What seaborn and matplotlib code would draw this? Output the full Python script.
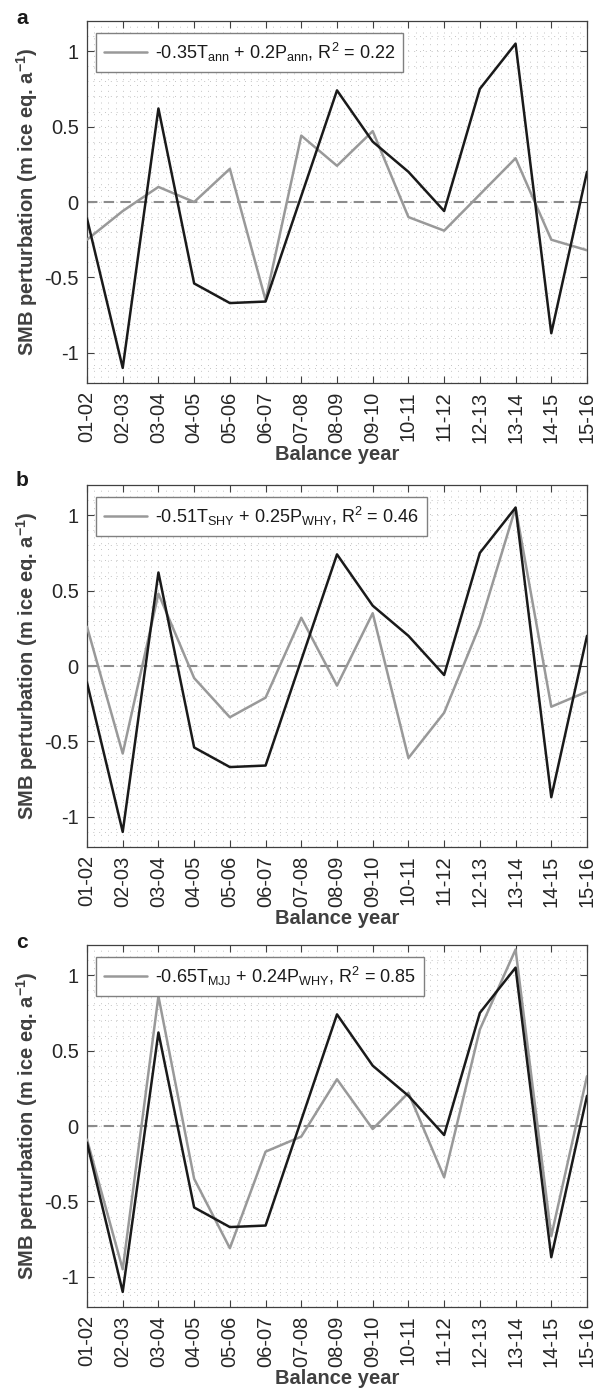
import numpy as np
import pandas as pd
import matplotlib
matplotlib.use("Agg")
import matplotlib.pyplot as plt
from matplotlib.ticker import MultipleLocator
import seaborn as sns

years = ["01-02", "02-03", "03-04", "04-05", "05-06", "06-07", "07-08", "08-09",
         "09-10", "10-11", "11-12", "12-13", "13-14", "14-15", "15-16"]

smb_obs = [-0.11, -1.10, 0.62, -0.54, -0.67, -0.66, 0.04, 0.74,
           0.40, 0.20, -0.06, 0.75, 1.05, -0.87, 0.20]

model_a = [-0.25, -0.06, 0.10, 0.00, 0.22, -0.65, 0.44, 0.24,
           0.47, -0.10, -0.19, 0.05, 0.29, -0.25, -0.32]
model_b = [0.26, -0.58, 0.48, -0.08, -0.34, -0.21, 0.32, -0.13,
           0.35, -0.61, -0.31, 0.27, 1.05, -0.27, -0.17]
model_c = [-0.09, -0.95, 0.86, -0.35, -0.81, -0.17, -0.07, 0.31,
           -0.02, 0.22, -0.34, 0.64, 1.17, -0.73, 0.33]

labels = [r"-0.35T$_{\mathrm{ann}}$ + 0.2P$_{\mathrm{ann}}$, R$^{2}$ = 0.22",
          r"-0.51T$_{\mathrm{SHY}}$ + 0.25P$_{\mathrm{WHY}}$, R$^{2}$ = 0.46",
          r"-0.65T$_{\mathrm{MJJ}}$ + 0.24P$_{\mathrm{WHY}}$, R$^{2}$ = 0.85"]
panel_letters = ["a", "b", "c"]
models = [model_a, model_b, model_c]

sns.set_style("ticks")
plt.rcParams['font.family'] = ['Liberation Sans', 'DejaVu Sans']
plt.rcParams['mathtext.fontset'] = 'custom'
plt.rcParams['mathtext.rm'] = 'Liberation Sans'
plt.rcParams['mathtext.it'] = 'Liberation Sans:italic'
plt.rcParams['mathtext.bf'] = 'Liberation Sans:bold'

txt = "#262626"
fig = plt.figure(figsize=(5.97, 13.93), dpi=100)
W, H = 597, 1393
tops = [21, 485, 945]
letter_y = [19, 480, 943]
left_px, right_px, h_px = 87, 587, 362

x = np.arange(len(years))
for i in range(3):
    top = tops[i]
    ax = fig.add_axes([left_px / W, 1 - (top + h_px) / H, (right_px - left_px) / W, h_px / H])
    df = pd.DataFrame({"x": x, "obs": smb_obs, "model": models[i]})
    ax.axhline(0, color="#8c8c8c", lw=1.5, ls=(0, (5, 3)), zorder=2)
    sns.lineplot(data=df, x="x", y="obs", ax=ax, color="#1a1a1a", lw=1.8, zorder=4)
    sns.lineplot(data=df, x="x", y="model", ax=ax, color="#999999", lw=1.8,
                 zorder=3, label=labels[i])
    ax.set_xlim(0, len(years) - 1)
    ax.set_ylim(-1.2, 1.2)
    ax.set_xticks(x)
    ax.set_xticklabels(years, rotation=90, fontsize=14.5, color=txt)
    ax.set_yticks([-1, -0.5, 0, 0.5, 1])
    ax.set_yticklabels(["-1", "-0.5", "0", "0.5", "1"], fontsize=14.5, color=txt)
    ax.xaxis.set_minor_locator(MultipleLocator(0.2))
    ax.yaxis.set_minor_locator(MultipleLocator(0.1))
    ax.grid(which="both", color="#c4c4c4", lw=0.7, ls=(0, (1, 5)))
    ax.set_axisbelow(True)
    ax.tick_params(which="major", direction="in", length=5, width=0.8,
                   top=True, right=True, colors="#404040", labelcolor=txt, pad=6)
    ax.tick_params(which="minor", length=0, top=True, right=True)
    for s in ax.spines.values():
        s.set_color("#404040")
        s.set_linewidth(0.9)
    ax.set_xlabel("Balance year", fontsize=14.5, fontweight="bold", color="#404040", labelpad=2)
    ax.set_ylabel(r"SMB perturbation (m ice eq. a$^{\mathbf{-1}}$)", fontsize=14.5,
                  fontweight="bold", color="#404040", labelpad=3)
    leg = ax.legend(loc="upper left", bbox_to_anchor=(0.018, 0.968), fontsize=13,
                    frameon=True, fancybox=False, framealpha=1, edgecolor="#808080",
                    handlelength=2.4, handletextpad=0.4, borderpad=0.45, borderaxespad=0)
    leg.get_frame().set_linewidth(1.0)
    for t in leg.get_texts():
        t.set_color("#1a1a1a")
    fig.text(16 / W, 1 - letter_y[i] / H, panel_letters[i], fontsize=15, fontweight="bold",
             color="#1a1a1a", ha="left", va="center")

fig.savefig("out.png", dpi=100)
